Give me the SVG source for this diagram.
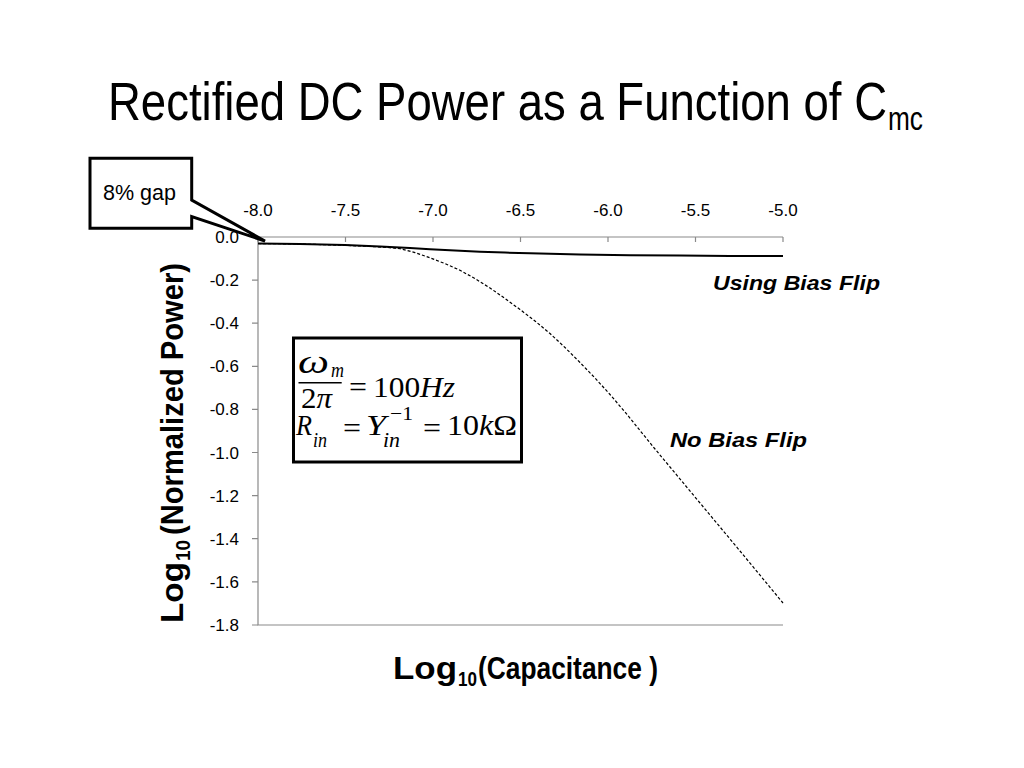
<svg xmlns="http://www.w3.org/2000/svg" width="1024" height="768" viewBox="0 0 1024 768">
<style>
.sans{font-family:"Liberation Sans","Open Sans",sans-serif;fill:#000}
.serif{font-family:"Liberation Serif","DejaVu Serif",serif;fill:#000}
.axis{stroke:#8a8a8a;stroke-width:1.2;fill:none}
.tl{font-size:17px;text-anchor:middle}
.ll{font-size:17px;text-anchor:end}
.b{font-weight:bold}
.bi{font-weight:bold;font-style:italic;font-size:21px}
.it{font-style:italic}
</style>
<rect width="1024" height="768" fill="#fff"/>

<g id="title">
<text class="sans" x="108" y="120" font-size="54" textLength="779" lengthAdjust="spacingAndGlyphs">Rectified DC Power as a Function of C</text>
<text class="sans" x="888" y="130" font-size="34" textLength="35" lengthAdjust="spacingAndGlyphs">mc</text>
</g>

<g id="axes">
<path class="axis" d="M258,237H783M258,237V625H783"/>
<path class="axis" d="M258,237v5M345.5,237v5M433,237v5M520.5,237v5M608,237v5M695.5,237v5M783,237v5"/>
<path class="axis" d="M252,237h6M252,280.1h6M252,323.2h6M252,366.3h6M252,409.4h6M252,452.5h6M252,495.6h6M252,538.7h6M252,581.8h6M252,625h6"/>
</g>

<g id="x-tick-labels" class="sans tl">
<text x="258" y="216">-8.0</text>
<text x="345.5" y="216">-7.5</text>
<text x="433" y="216">-7.0</text>
<text x="520.5" y="216">-6.5</text>
<text x="608" y="216">-6.0</text>
<text x="695.5" y="216">-5.5</text>
<text x="783" y="216">-5.0</text>
</g>

<g id="y-tick-labels" class="sans ll">
<text x="239" y="243">0.0</text>
<text x="239" y="286.1">-0.2</text>
<text x="239" y="329.2">-0.4</text>
<text x="239" y="372.3">-0.6</text>
<text x="239" y="415.4">-0.8</text>
<text x="239" y="458.5">-1.0</text>
<text x="239" y="501.6">-1.2</text>
<text x="239" y="544.7">-1.4</text>
<text x="239" y="587.8">-1.6</text>
<text x="239" y="631">-1.8</text>
</g>

<g id="connectors">
<polyline id="using-bias-flip-curve" fill="none" stroke="#000" stroke-width="2" stroke-linejoin="round" points="258,243.5 300,244 345,245 380,246.5 410,248 430,249.3 455,250.6 480,251.7 505,252.6 530,253.3 580,254.5 630,255.2 680,255.6 730,255.9 783,256"/>
<polyline id="no-bias-flip-curve" fill="none" stroke="#000" stroke-width="1.2" stroke-dasharray="3 2" stroke-linejoin="round" points="258,243.5 300,244 345,245.3 370,246.4 388,247.5 400,248.7 415,252.6 430,257.8 445,263.6 460,270.3 475,278.6 490,288 505,298.5 520,309.5 535,321 550,333.5 565,347.5 580,362.5 595,378 610,394.5 625,412 640,430.5 655,449 670,467 700,503 740,551 783,603"/>
</g>

<g id="curve-labels" class="sans">
<text class="bi" x="713" y="290" textLength="167" lengthAdjust="spacingAndGlyphs">Using Bias Flip</text>
<text class="bi" x="670" y="447" textLength="137" lengthAdjust="spacingAndGlyphs">No Bias Flip</text>
</g>

<g id="x-axis-title" class="sans b">
<text x="393" y="679" font-size="32" textLength="64" lengthAdjust="spacingAndGlyphs">Log</text>
<text x="458" y="686" font-size="21" textLength="19" lengthAdjust="spacingAndGlyphs">10</text>
<text x="478" y="679" font-size="32" textLength="180" lengthAdjust="spacingAndGlyphs">(Capacitance )</text>
</g>

<g id="y-axis-title" class="sans b" transform="translate(183,443) rotate(-90)">
<text x="-180" y="0" font-size="32" textLength="61" lengthAdjust="spacingAndGlyphs">Log</text>
<text x="-118" y="7" font-size="21" textLength="21" lengthAdjust="spacingAndGlyphs">10</text>
<text x="-92" y="0" font-size="32" textLength="272" lengthAdjust="spacingAndGlyphs">(Normalized Power)</text>
</g>

<g id="equation-box">
<rect x="293.5" y="338" width="228" height="124" fill="#fff" stroke="#000" stroke-width="3"/>
<g class="serif">
<text class="it" x="298" y="373" font-size="34" textLength="31" lengthAdjust="spacingAndGlyphs">ω</text>
<text class="it" x="331" y="377" font-size="20" textLength="13" lengthAdjust="spacingAndGlyphs">m</text>
<line x1="298.5" y1="382.7" x2="341.7" y2="382.7" stroke="#000" stroke-width="1.5"/>
<text x="301" y="408" font-size="30" textLength="31" lengthAdjust="spacingAndGlyphs">2<tspan class="it">π</tspan></text>
<text x="349" y="397" font-size="30" textLength="18" lengthAdjust="spacingAndGlyphs">=</text>
<text x="373" y="397" font-size="30" textLength="82" lengthAdjust="spacingAndGlyphs">100<tspan class="it">Hz</tspan></text>
<text class="it" x="296" y="435" font-size="30" textLength="16" lengthAdjust="spacingAndGlyphs">R</text>
<text class="it" x="313" y="447" font-size="20" textLength="14" lengthAdjust="spacingAndGlyphs">in</text>
<text x="343" y="438" font-size="30" textLength="18" lengthAdjust="spacingAndGlyphs">=</text>
<text class="it" x="366" y="435" font-size="30" textLength="20" lengthAdjust="spacingAndGlyphs">Y</text>
<text class="it" x="383" y="447" font-size="20" textLength="17" lengthAdjust="spacingAndGlyphs">in</text>
<text x="390" y="420" font-size="19" textLength="23" lengthAdjust="spacingAndGlyphs">−1</text>
<text x="423" y="438" font-size="30" textLength="18" lengthAdjust="spacingAndGlyphs">=</text>
<text x="447" y="435" font-size="30" textLength="70" lengthAdjust="spacingAndGlyphs">10<tspan class="it">k</tspan>Ω</text>
</g>
</g>

<g id="callout-8-gap">
<polygon points="90,158.3 191.7,158.3 191.7,200 265,241 191.7,216.7 191.7,228.3 90,228.3" fill="#fff" stroke="#000" stroke-width="3" stroke-linejoin="miter"/>
<text class="sans" x="103" y="200" font-size="22" textLength="73" lengthAdjust="spacingAndGlyphs">8% gap</text>
</g>
</svg>
